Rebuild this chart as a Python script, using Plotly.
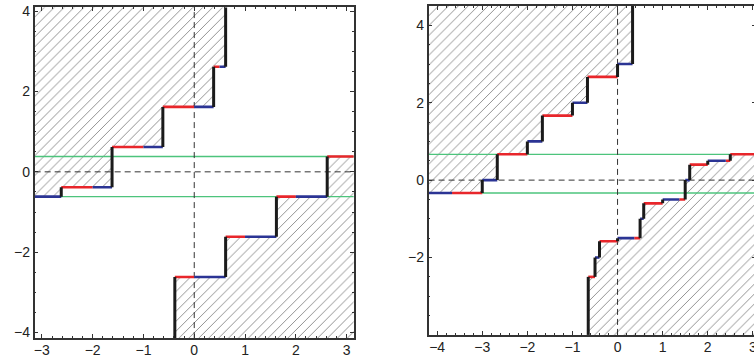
import math
import plotly.graph_objects as go

# ---------------- data ----------------
# Left panel
L_XRANGE = [-math.pi, math.pi]
L_YRANGE = [-4.14, 4.10]
# upper staircase: piece boundaries, levels, colour tag of each piece
lu_x = [-math.pi, -2.618, -2.0, -1.618, -1.0, -0.618, 0.0, 0.382, 0.5, 0.618]
lu_y = [-0.618, -0.382, -0.382, 0.618, 0.618, 1.618, 1.618, 2.618, 2.618]
lu_tag = ["b", "r", "b", "r", "b", "r", "b", "r", "b"]
# lower staircase
ll_x = [-0.382, 0.0, 0.618, 1.0, 1.618, 2.0, 2.618, math.pi]
ll_y = [-2.618, -2.618, -1.618, -1.618, -0.618, -0.618, 0.382]
ll_tag = ["r", "b", "r", "b", "r", "b", "r"]
left_green = [0.382, -0.618]

# Right panel (its right edge lies just outside the visible picture)
R_XRANGE = [-4.19, 3.07]
R_YRANGE = [-4.0, 4.5]
ru_x = [-4.19, -3.67, -3.0, -2.667, -2.0, -1.667, -1.0, -0.667, 0.0, 0.333]
ru_y = [-0.333, -0.333, 0.0, 0.667, 1.0, 1.667, 2.0, 2.667, 3.0]
ru_tag = ["b", "r", "b", "r", "b", "r", "b", "r", "b"]
rl_x = [-0.65, -0.5, -0.4, 0.0, 0.37, 0.5, 0.58, 1.0, 1.37, 1.5, 1.6, 2.0, 2.4, 2.5, 3.07]
rl_y = [-2.5, -2.0, -1.58, -1.5, -1.5, -1.0, -0.6, -0.5, -0.5, 0.0, 0.4, 0.5, 0.5, 0.667]
rl_tag = ["r", "b", "r", "b", "r", "b", "r", "b", "r", "b", "r", "b", "r", "r"]
right_green = [0.667, -0.333]

x_ticks_left = [-3, -2, -1, 0, 1, 2, 3]
x_ticks_right = [-4, -3, -2, -1, 0, 1, 2, 3]
y_ticks_left = [-4, -2, 0, 2, 4]
y_ticks_right = [-2, 0, 2, 4]

# ---------------- styles ----------------
COL = {"r": "#e8262b", "b": "#2b3494"}
BLACK = "#1b1b1b"
GREEN = "#4dc47c"
FRAME = "#333333"
W, H = 758, 358

fig = go.Figure()


def add_hatch(xs, ys, kind, xa, ya, yr):
    edge = yr[1] if kind == "upper" else yr[0]
    px, py = [xs[0]], [edge]
    for i, lv in enumerate(ys):
        px += [xs[i], xs[i + 1]]
        py += [lv, lv]
    px.append(xs[-1]); py.append(edge)
    fig.add_trace(go.Scatter(
        x=px, y=py, xaxis=xa, yaxis=ya, mode="lines", fill="toself",
        fillcolor="rgba(0,0,0,0)", line=dict(width=0),
        fillpattern=dict(shape="/", fgcolor="#222222", bgcolor="rgba(0,0,0,0)",
                         size=7, solidity=0.14),
        hoverinfo="skip", showlegend=False))


def add_stair_lines(xs, ys, tags, kind, xa, ya, yr):
    ytop, ybot = yr[1], yr[0]
    for t in ("r", "b"):
        sx, sy = [], []
        for i, lv in enumerate(ys):
            if tags[i] == t:
                sx += [xs[i], xs[i + 1], None]
                sy += [lv, lv, None]
        fig.add_trace(go.Scatter(x=sx, y=sy, xaxis=xa, yaxis=ya, mode="lines",
                                 line=dict(color=COL[t], width=2.6),
                                 hoverinfo="skip", showlegend=False))
    vx, vy = [], []
    if kind == "lower":
        vx += [xs[0], xs[0], None]; vy += [ybot, ys[0], None]
    for i in range(len(ys) - 1):
        if ys[i] != ys[i + 1]:
            vx += [xs[i + 1], xs[i + 1], None]
            vy += [ys[i], ys[i + 1], None]
    if kind == "upper":
        vx += [xs[-1], xs[-1], None]; vy += [ys[-1], ytop, None]
    fig.add_trace(go.Scatter(x=vx, y=vy, xaxis=xa, yaxis=ya, mode="lines",
                             line=dict(color=BLACK, width=3),
                             hoverinfo="skip", showlegend=False))


panels = [
    ("x", "y", L_XRANGE, L_YRANGE, left_green,
     [(lu_x, lu_y, lu_tag, "upper"), (ll_x, ll_y, ll_tag, "lower")]),
    ("x2", "y2", R_XRANGE, R_YRANGE, right_green,
     [(ru_x, ru_y, ru_tag, "upper"), (rl_x, rl_y, rl_tag, "lower")]),
]

for xa, ya, xr, yr, greens, stairs in panels:
    for xs, ys, tags, kind in stairs:
        add_hatch(xs, ys, kind, xa, ya, yr)
    for g in greens:
        fig.add_trace(go.Scatter(x=[xr[0], xr[1]], y=[g, g], xaxis=xa, yaxis=ya,
                                 mode="lines", line=dict(color=GREEN, width=1.3),
                                 hoverinfo="skip", showlegend=False))
    fig.add_trace(go.Scatter(x=[xr[0], xr[1]], y=[0, 0], xaxis=xa, yaxis=ya,
                             mode="lines", line=dict(color="#333", width=1, dash="6px,4px"),
                             hoverinfo="skip", showlegend=False))
    fig.add_trace(go.Scatter(x=[0, 0], y=[yr[0], yr[1]], xaxis=xa, yaxis=ya,
                             mode="lines", line=dict(color="#333", width=1, dash="6px,4px"),
                             hoverinfo="skip", showlegend=False))
    for xs, ys, tags, kind in stairs:
        add_stair_lines(xs, ys, tags, kind, xa, ya, yr)

FONT = dict(family="Liberation Sans, Arial, sans-serif", size=14, color="#222")
axis_common = dict(showgrid=False, zeroline=False, showline=True, linecolor=FRAME,
                   linewidth=1.6, ticks="inside", ticklen=4, tickwidth=1,
                   tickcolor=FRAME, mirror="ticks", tickfont=FONT,
                   ticklabeloverflow="allow")
minor_x = dict(ticks="inside", ticklen=2, dtick=0.2, tick0=0, tickcolor=FRAME)
minor_y = dict(ticks="inside", ticklen=2, dtick=0.5, tick0=0, tickcolor=FRAME)

fig.update_layout(
    width=W, height=H, margin=dict(l=0, r=0, t=0, b=0),
    paper_bgcolor="white", plot_bgcolor="white", showlegend=False,
    xaxis=dict(domain=[33.8 / W, 354.2 / W], range=L_XRANGE, tickvals=x_ticks_left,
               anchor="y", minor=minor_x, ticklabelstandoff=-2, **axis_common),
    yaxis=dict(domain=[0.0455, 0.9908], range=L_YRANGE, tickvals=y_ticks_left,
               anchor="x", minor=minor_y, **axis_common),
    xaxis2=dict(domain=[429.3 / W, 1.0], range=R_XRANGE, tickvals=x_ticks_right,
                anchor="y2", minor=minor_x, ticklabelstandoff=-2, **axis_common),
    yaxis2=dict(domain=[0.0545, 0.9944], range=R_YRANGE, tickvals=y_ticks_right,
                anchor="x2", minor=minor_y, **axis_common),
)

fig.write_html(
    "out.html",
    config={"displayModeBar": False},
    post_script="document.body.style.margin='0';document.body.style.overflow='hidden';",
)
